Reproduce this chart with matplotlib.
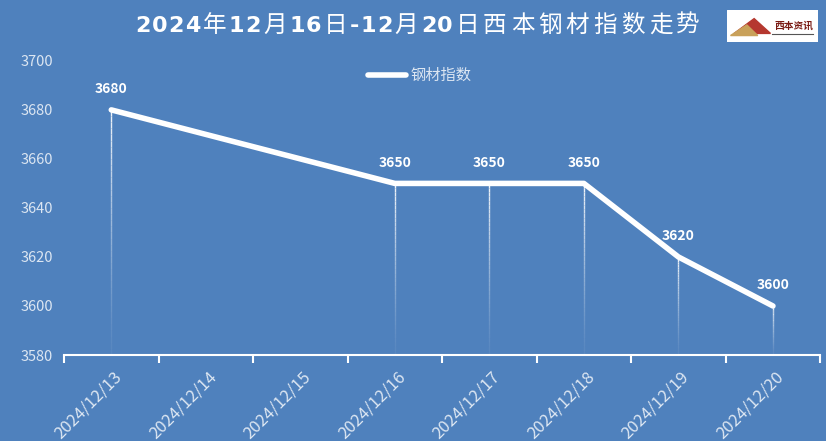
import numpy as np
import matplotlib.pyplot as plt
from matplotlib.patches import Polygon, Rectangle

plt.rcParams['font.family'] = ['Noto Sans CJK SC', 'DejaVu Sans']

# data
dates = ['2024/12/13', '2024/12/14', '2024/12/15', '2024/12/16',
         '2024/12/17', '2024/12/18', '2024/12/19', '2024/12/20']
point_dates = ['2024/12/13', '2024/12/16', '2024/12/17',
               '2024/12/18', '2024/12/19', '2024/12/20']
index_values = [3680, 3650, 3650, 3650, 3620, 3600]
y_ticks = [3580, 3600, 3620, 3640, 3660, 3680, 3700]
title = '2024年12月16日-12月20日西本钢材指数走势'

bg = '#4f81bd'
light = '#dce6f2'

fig = plt.figure(figsize=(8.26, 4.41), dpi=100, facecolor=bg)
ax = fig.add_axes([0.0775, 0.195, 0.9155, 0.667], facecolor=bg)

xs = [dates.index(d) for d in point_dates]
ymin, ymax = 3580, 3700

# fading drop lines
n = 40
for x, v in zip(xs, index_values):
    edges = np.linspace(ymin, v, n + 1)
    for i in range(n):
        a = 0.05 + 0.9 * (i / n) ** 1.3
        ax.plot([x, x], [edges[i], edges[i + 1]], color='white', alpha=a,
                lw=1.0, solid_capstyle='butt', zorder=2)

ax.plot(xs, index_values, color='white', lw=4, solid_capstyle='round',
        solid_joinstyle='round', zorder=3, label='钢材指数')

for x, v in zip(xs, index_values):
    ax.annotate(str(v), (x, v), xytext=(0, 10), textcoords='offset points',
                ha='center', va='bottom', color='white', fontsize=10,
                fontweight='bold')

ax.set_xlim(-0.5, len(dates) - 0.5)
ax.set_ylim(ymin, ymax)
ax.set_yticks(y_ticks)
ax.set_yticklabels([str(t) for t in y_ticks], color=light, fontsize=10.5)
ax.tick_params(axis='y', length=0, pad=8)

# category boundary ticks
ax.set_xticks(np.arange(-0.5, len(dates) + 0.5, 1))
ax.set_xticklabels([])
ax.tick_params(axis='x', length=6, width=1.5, color='white', direction='out')
for i, d in enumerate(dates):
    ax.text(i + 0.02, ymin - 5.5, d, rotation=45, ha='right', va='top',
            rotation_mode='anchor', color=light, fontsize=12,
            transform=ax.transData)

for s in ['top', 'right', 'left']:
    ax.spines[s].set_visible(False)
ax.spines['bottom'].set_color('white')
ax.spines['bottom'].set_linewidth(1.5)

leg = ax.legend(loc='upper center', bbox_to_anchor=(0.47, 1.025), frameon=False,
                fontsize=11, handlelength=2.5, handletextpad=0.3)
for t in leg.get_texts():
    t.set_color(light)

# title: bold latin digits, regular CJK with letter spacing
r = fig.canvas.get_renderer()
pieces = []
for ch in title:
    if ord(ch) < 128:
        t = fig.text(0, 0, ch, color='white', fontsize=16, fontweight='bold',
                     family='DejaVu Sans', va='baseline')
        gap = 1.0
    else:
        t = fig.text(0, 0, ch, color='white', fontsize=17,
                     family='Noto Sans CJK SC', va='baseline')
        gap = 4.0
    w = t.get_window_extent(renderer=r).width
    pieces.append((t, w, gap))
total = sum(w + g for _, w, g in pieces)
x0 = 418.5 - total / 2
for t, w, g in pieces:
    t.set_position(((x0 + g / 2) / 826, 1 - 32 / 441))
    x0 += w + g

# logo
lg = fig.add_axes([0.880, 0.905, 0.110, 0.072])
lg.set_xlim(0, 100)
lg.set_ylim(0, 30)
lg.axis('off')
lg.add_patch(Rectangle((0, 0), 100, 30, color='white'))
lg.add_patch(Polygon([[8, 8], [30, 22], [48, 8]], color='#b5382f'))
lg.add_patch(Polygon([[4, 6], [22, 16], [34, 6]], color='#c9a15a'))
lg.text(52, 15, '西本资讯', color='#7a1b14', fontsize=7, fontweight='bold',
        va='center')
lg.plot([50, 95], [7, 7], color='#555555', lw=0.8)

fig.savefig('out.png', dpi=100, facecolor=bg)
